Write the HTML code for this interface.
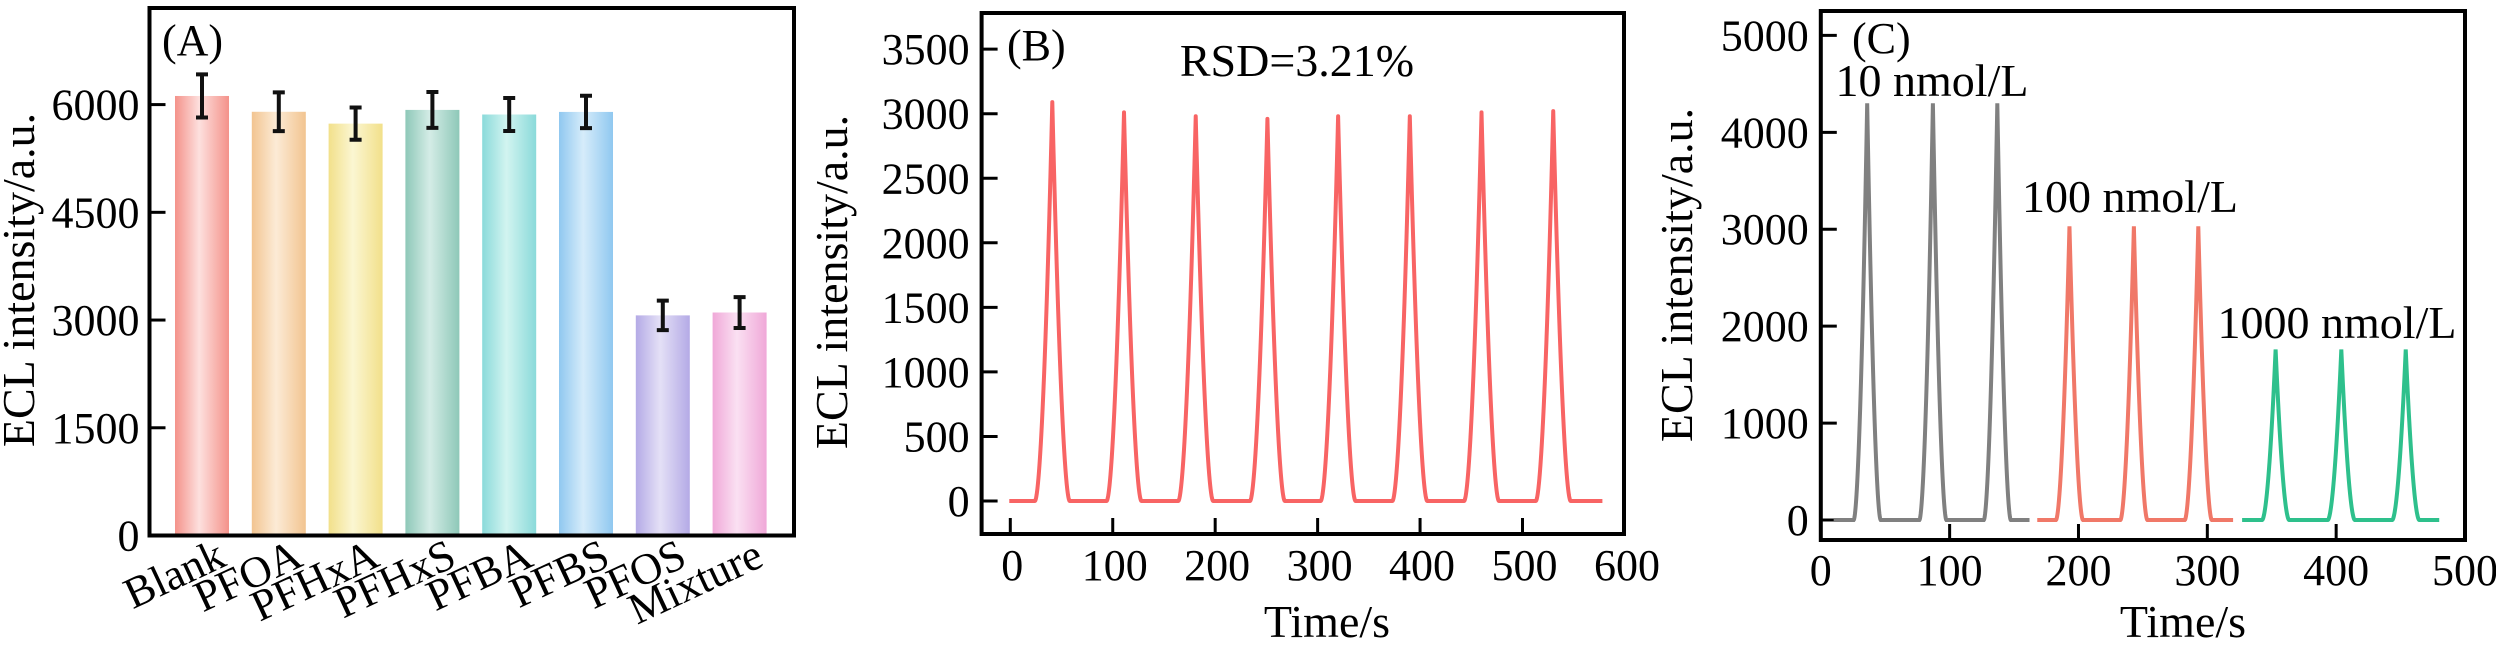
<!DOCTYPE html>
<html><head><meta charset="utf-8"><style>
html,body{margin:0;padding:0;background:#fff;}
svg{display:block;font-family:"Liberation Serif","DejaVu Serif",serif;}
</style></head><body>
<svg id="fig" width="2496" height="646" viewBox="0 0 2496 646" xmlns="http://www.w3.org/2000/svg">
<defs id="defs"></defs>
</svg>
<script>
// Panel A data
const barCategories = ["Blank","PFOA","PFHxA","PFHxS","PFBA","PFBS","PFOS","Mixture"];
const barValues = [6120, 5900, 5735, 5926, 5862, 5898, 3065, 3105];
const barErrors = [300, 270, 225, 250, 230, 225, 205, 215];
const barTicks = [0, 1500, 3000, 4500, 6000];
// Panel B data
const bPeakTimes = [41, 111, 181, 251, 320, 390, 460, 530];
const bPeakHeights = [3090, 3010, 2980, 2960, 2980, 2980, 3010, 3020];
const bYTicks = [0, 500, 1000, 1500, 2000, 2500, 3000, 3500];
const bXTicks = [0, 100, 200, 300, 400, 500, 600];
// Panel C data
const cGroupLabels = ["10 nmol/L", "100 nmol/L", "1000 nmol/L"];
const cGrayTimes = [36, 87, 137];
const cGrayHeights = [4300, 4300, 4300];
const cRedTimes = [193, 243, 293];
const cRedHeights = [3030, 3030, 3030];
const cGreenTimes = [353, 404, 454];
const cGreenHeights = [1760, 1760, 1760];
const cYTicks = [0, 1000, 2000, 3000, 4000, 5000];
const cXTicks = [0, 100, 200, 300, 400, 500];

const NS = "http://www.w3.org/2000/svg";
const svg = document.getElementById('fig');
const defs = document.getElementById('defs');
function mk(tag, attrs, parent){
  const e = document.createElementNS(NS, tag);
  for (const k in attrs) e.setAttribute(k, attrs[k]);
  (parent||svg).appendChild(e);
  return e;
}
function txt(s, attrs, parent){ const e = mk('text', attrs, parent); e.textContent = s; return e; }
const FS = 44;

// ---------- Panel A ----------
const A = {x0:149.5, x1:794, y0:8, y1:535.5, yMax:7345};
const ayS = v => A.y1 - (v/A.yMax)*(A.y1-A.y0);
const barStep = 76.8, barFirst = 202, barW = 54;
const axS = i => barFirst + i*barStep;
const barColors = [["#f4928a","#fde0de"],["#f2c490","#fcebd6"],["#f2e08a","#fbf6d2"],["#8ec8b8","#d4ece6"],["#8adada","#d2f4f0"],["#90c8f0","#d6ecfa"],["#b4aae6","#e4e0f6"],["#f0a8d8","#fae0f2"]];
const gA = mk('g', {});


barCategories.forEach((c, i) => {
  const gid = 'bg' + i;
  const lg = mk('linearGradient', {id:gid, x1:'0', x2:'1', y1:'0', y2:'0'}, defs);
  mk('stop', {offset:'0', 'stop-color':barColors[i][0]}, lg);
  mk('stop', {offset:'0.45', 'stop-color':barColors[i][1]}, lg);
  mk('stop', {offset:'1', 'stop-color':barColors[i][0]}, lg);
  const cx = axS(i), top = ayS(barValues[i]);
  const r = mk('rect', {x:cx-barW/2, y:top, width:barW, height:A.y1-top, fill:'url(#'+gid+')'}, gA);
  
  
  const eh = ayS(barValues[i]+barErrors[i]), el = ayS(barValues[i]-barErrors[i]);
  const eb = mk('path', {d:`M${cx},${eh}V${el}M${cx-6},${eh}H${cx+6}M${cx-6},${el}H${cx+6}`, stroke:'#111', 'stroke-width':4, fill:'none'}, gA);
  
  
  const ax = cx + 26, ay = 565;
  const lt = txt(c, {x:ax, y:ay, 'text-anchor':'end', 'font-size':FS, transform:`rotate(-25 ${ax} ${ay})`}, gA);
  
  
});
barTicks.forEach(v => {
  const y = ayS(v);
  mk('line', {x1:A.x0, x2:A.x0+16, y1:y, y2:y, stroke:'#000', 'stroke-width':3}, gA);
  const t = txt(String(v), {x:A.x0-10, y:y+15, 'text-anchor':'end', 'font-size':FS}, gA);
  
  
});
mk('rect', {x:A.x0, y:A.y0, width:A.x1-A.x0, height:A.y1-A.y0, fill:'none', stroke:'#000', 'stroke-width':4}, gA);
txt('(A)', {x:162, y:55, 'font-size':FS}, gA);
txt('ECL intensity/a.u.', {x:0, y:0, 'text-anchor':'middle', 'font-size':46, transform:'translate(34 280) rotate(-90)'}, gA);

// ---------- Line panel helper ----------
function peakPath(times, heights, xs, ys, t0, t1, hw){
  let d = '';
  for (let t = t0; t <= t1 + 1e-9; t += 0.25){
    let v = 0;
    times.forEach((c, k) => { const u = Math.abs(t-c)/hw; if (u < 1) { v += heights[k]*Math.pow(1-u, 1.8); } });
    d += (d ? 'L' : 'M') + xs(t).toFixed(2) + ',' + ys(v).toFixed(2);
  }
  return d;
}

// ---------- Panel B ----------
const B = {x0:981.6, x1:1624, y0:13, y1:534};
const bxS = t => 1010.3 + t*1.0244;
const byS = v => 501 - v*0.1291;
const gB = mk('g', {});


bYTicks.forEach(v => {
  const y = byS(v);
  mk('line', {x1:B.x0, x2:B.x0+16, y1:y, y2:y, stroke:'#000', 'stroke-width':3}, gB);
  txt(String(v), {x:B.x0-12, y:y+15, 'text-anchor':'end', 'font-size':FS}, gB);
});
bXTicks.forEach(v => {
  const x = bxS(v);
  if (v < 600) mk('line', {x1:x, x2:x, y1:B.y1, y2:B.y1-16, stroke:'#000', 'stroke-width':3}, gB);
  txt(String(v), {x:x+2, y:580, 'text-anchor':'middle', 'font-size':FS}, gB);
});
const bl = mk('path', {d:peakPath(bPeakTimes, bPeakHeights, bxS, byS, -1, 578, 17), fill:'none', stroke:'#f86464', 'stroke-width':4, 'stroke-linejoin':'round'}, gB);


mk('rect', {x:B.x0, y:B.y0, width:B.x1-B.x0, height:B.y1-B.y0, fill:'none', stroke:'#000', 'stroke-width':4}, gB);
txt('(B)', {x:1007, y:60, 'font-size':FS}, gB);
txt('RSD=3.21%', {x:1297, y:76, 'text-anchor':'middle', 'font-size':46}, gB);
txt('Time/s', {x:1327, y:637, 'text-anchor':'middle', 'font-size':46}, gB);
txt('ECL intensity/a.u.', {x:0, y:0, 'text-anchor':'middle', 'font-size':46, transform:'translate(847 282) rotate(-90)'}, gB);

// ---------- Panel C ----------
const C = {x0:1820.8, x1:2465, y0:11, y1:540};
const cxS = t => 1820.8 + t*1.2884;
const cyS = v => 520 - v*0.09692;
const gC = mk('g', {});


cYTicks.forEach(v => {
  const y = cyS(v);
  mk('line', {x1:C.x0, x2:C.x0+16, y1:y, y2:y, stroke:'#000', 'stroke-width':3}, gC);
  txt(String(v), {x:C.x0-12, y:y+15, 'text-anchor':'end', 'font-size':FS}, gC);
});
cXTicks.forEach(v => {
  const x = cxS(v);
  if (v > 0 && v < 500) mk('line', {x1:x, x2:x, y1:C.y1, y2:C.y1-16, stroke:'#000', 'stroke-width':3}, gC);
  txt(String(v), {x:x, y:585, 'text-anchor':'middle', 'font-size':FS}, gC);
});
const cg = mk('path', {d:peakPath(cGrayTimes, cGrayHeights, cxS, cyS, 10, 162, 10.5), fill:'none', stroke:'#808080', 'stroke-width':4}, gC);


const cr = mk('path', {d:peakPath(cRedTimes, cRedHeights, cxS, cyS, 168, 320, 10.5), fill:'none', stroke:'#f07868', 'stroke-width':4}, gC);


const cgr = mk('path', {d:peakPath(cGreenTimes, cGreenHeights, cxS, cyS, 327, 480, 10.5), fill:'none', stroke:'#2ec08c', 'stroke-width':4}, gC);


mk('rect', {x:C.x0, y:C.y0, width:C.x1-C.x0, height:C.y1-C.y0, fill:'none', stroke:'#000', 'stroke-width':4}, gC);
txt('(C)', {x:1852, y:53, 'font-size':FS}, gC);
txt(cGroupLabels[0], {x:1932, y:96, 'text-anchor':'middle', 'font-size':46}, gC);
txt(cGroupLabels[1], {x:2130, y:212, 'text-anchor':'middle', 'font-size':46}, gC);
txt(cGroupLabels[2], {x:2337, y:338, 'text-anchor':'middle', 'font-size':46}, gC);
txt('Time/s', {x:2183, y:637, 'text-anchor':'middle', 'font-size':46}, gC);
txt('ECL intensity/a.u.', {x:0, y:0, 'text-anchor':'middle', 'font-size':46, transform:'translate(1692 275) rotate(-90)'}, gC);
</script>
</body></html>
